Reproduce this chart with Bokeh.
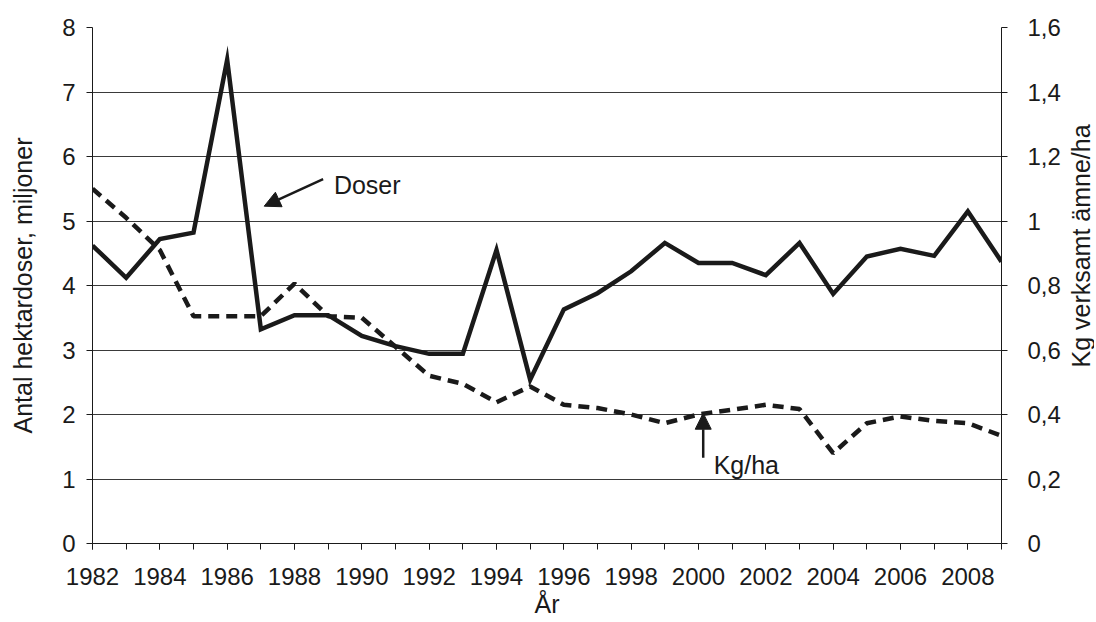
import math
from bokeh.plotting import figure
from bokeh.layouts import row
from bokeh.models import (Range1d, LinearAxis, FixedTicker, CustomJSTickFormatter,
                          Arrow, NormalHead, Label)
from bokeh.embed import file_html
from bokeh.resources import INLINE

# ---- data ----
years = list(range(1982, 2010))
doser = [4.62, 4.12, 4.72, 4.82, 7.5, 3.32, 3.54, 3.54, 3.22, 3.06, 2.94, 2.94, 4.55, 2.54,
         3.63, 3.88, 4.22, 4.66, 4.35, 4.35, 4.16, 4.66, 3.87, 4.45, 4.57, 4.46, 5.15, 4.37]
kg_ha = [1.10, 1.01, 0.91, 0.705, 0.705, 0.705, 0.806, 0.705, 0.70, 0.61, 0.52, 0.495, 0.438, 0.487,
         0.43, 0.42, 0.40, 0.373, 0.40, 0.415, 0.43, 0.417, 0.28, 0.373, 0.394, 0.38, 0.373, 0.334]
x_tick_labels = list(range(1982, 2010, 2))
left_ticks = [0, 1, 2, 3, 4, 5, 6, 7, 8]
right_ticks = [0, 0.2, 0.4, 0.6, 0.8, 1.0, 1.2, 1.4, 1.6]
left_title = "Antal hektardoser, miljoner"
right_title = "Kg verksamt ämne/ha"
x_title = "År"

FONT = "Liberation Sans"
INK = "#1a1a1a"
H = 620

p = figure(width=1063, height=H, output_backend="svg", toolbar_location=None,
           x_range=Range1d(1982, 2009), y_range=Range1d(0, 8),
           min_border_left=92, min_border_right=61, min_border_top=27, min_border_bottom=76)
p.outline_line_color = None
p.background_fill_color = "white"
p.border_fill_color = "white"
p.extra_y_ranges = {"kg": Range1d(0, 1.6)}

# x axis
xa = p.xaxis[0]
xa.ticker = FixedTicker(ticks=x_tick_labels, minor_ticks=years)
xa.axis_label = x_title
xa.major_tick_in = 0
xa.major_tick_out = 6
xa.minor_tick_in = 0
xa.minor_tick_out = 6
xa.major_label_standoff = 18
xa.axis_label_standoff = 2

# left axis
ya = p.yaxis[0]
ya.ticker = FixedTicker(ticks=left_ticks)
ya.axis_label = left_title
ya.major_tick_in = 0
ya.major_tick_out = 6
ya.major_label_standoff = 11
ya.axis_label_standoff = 22

# right axis
ra = LinearAxis(y_range_name="kg", ticker=FixedTicker(ticks=right_ticks),
                formatter=CustomJSTickFormatter(code="return tick.toFixed(1).replace(/\\.0$/, '').replace('.', ',');"))
ra.major_tick_in = 0
ra.major_tick_out = 6
ra.major_label_standoff = 20
p.add_layout(ra, "right")

for ax in [xa, ya, ra]:
    ax.axis_line_color = INK
    ax.axis_line_width = 1
    ax.major_tick_line_color = INK
    ax.minor_tick_line_color = INK if ax is xa else None
    ax.major_label_text_font = FONT
    ax.major_label_text_font_size = "24px"
    ax.major_label_text_color = INK
    ax.axis_label_text_font = FONT
    ax.axis_label_text_font_size = "25px"
    ax.axis_label_text_font_style = "normal"
    ax.axis_label_text_color = INK

p.xgrid.grid_line_color = None
p.ygrid.ticker = FixedTicker(ticks=left_ticks)
p.ygrid.grid_line_color = "#3a3a3a"
p.ygrid.grid_line_width = 1

# series
p.line(years, doser, line_color=INK, line_width=4.5, line_join="miter")
p.line(years, kg_ha, y_range_name="kg", line_color=INK, line_width=4.5, line_dash="11 7")

# annotations
head1 = NormalHead(size=16, fill_color=INK, line_color=INK)
p.add_layout(Arrow(end=head1, x_start=1988.85, y_start=5.65, x_end=1987.10, y_end=5.23,
                   line_color=INK, line_width=2.5))
p.add_layout(Label(x=1989.17, y=5.56, text="Doser", text_font=FONT, text_font_size="25px",
                   text_color=INK, text_baseline="alphabetic"))

head2 = NormalHead(size=16, fill_color=INK, line_color=INK)
p.add_layout(Arrow(end=head2, x_start=2000.14, y_start=1.33, x_end=2000.14, y_end=2.02,
                   line_color=INK, line_width=2.5))
p.add_layout(Label(x=2000.45, y=1.22, text="Kg/ha", text_font=FONT, text_font_size="25px",
                   text_color=INK, text_baseline="alphabetic"))

# narrow strip to the right holding the right-axis title (reads bottom-to-top)
W2 = 31
p2 = figure(width=W2, height=H, output_backend="svg", toolbar_location=None,
            x_range=Range1d(0, W2), y_range=Range1d(0, H),
            x_axis_type=None, y_axis_type=None,
            min_border_left=0, min_border_right=0, min_border_top=0, min_border_bottom=0)
p2.outline_line_color = None
p2.background_fill_color = "white"
p2.border_fill_color = "white"
p2.grid.grid_line_color = None
p2.add_layout(Label(x=17, y=H - 262.5, text=right_title, angle=math.pi / 2,
                    text_align="center", text_baseline="middle", text_font=FONT,
                    text_font_size="25px", text_color=INK))

layout = row(p, p2)
open("out.html", "w").write(file_html(layout, INLINE))
